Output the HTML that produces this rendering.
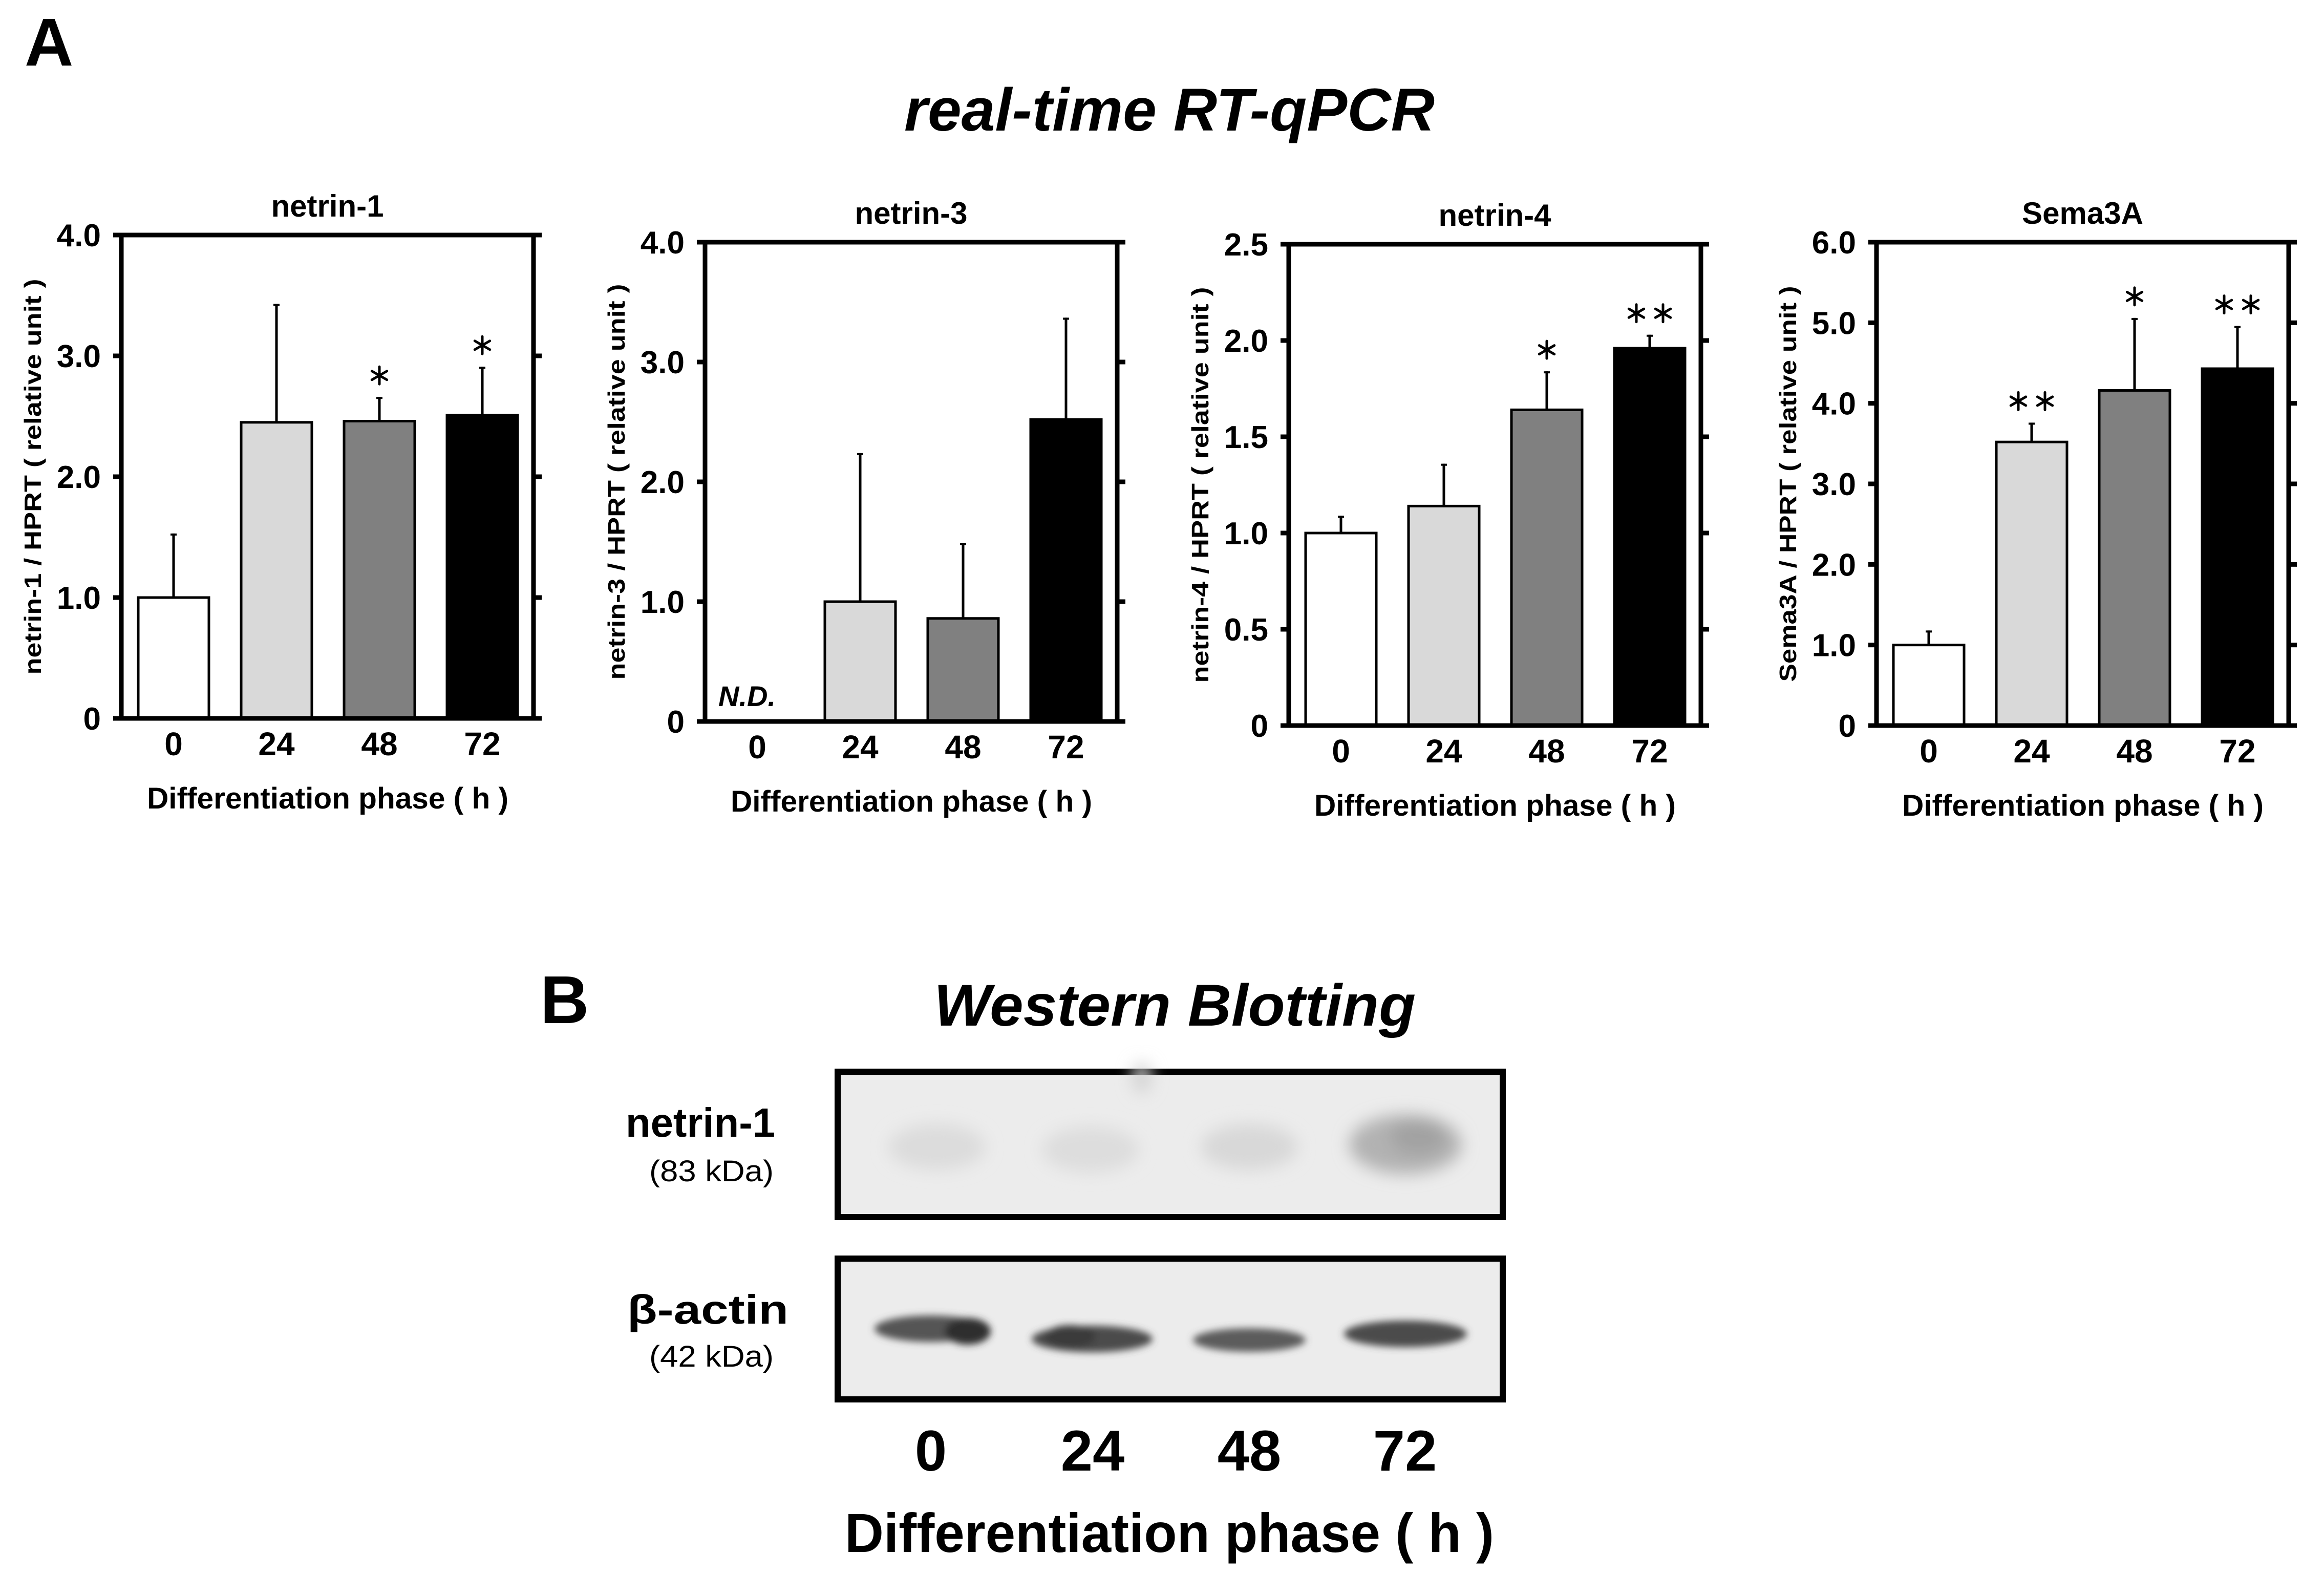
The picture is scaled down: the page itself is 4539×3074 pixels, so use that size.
<!DOCTYPE html>
<html><head><meta charset="utf-8"><style>
html,body{margin:0;padding:0;background:#fff;}
svg{display:block;}
text{font-family:"Liberation Sans",Arial,sans-serif;}
</style></head><body>
<svg id="fig" width="4539" height="3074" viewBox="0 0 4539 3074" xmlns="http://www.w3.org/2000/svg">
<defs>
<filter id="blur1" x="-50%" y="-50%" width="200%" height="200%"><feGaussianBlur stdDeviation="16"/></filter>
<filter id="blur2" x="-50%" y="-50%" width="200%" height="200%"><feGaussianBlur stdDeviation="7"/></filter>
</defs>
<rect x="0" y="0" width="4539" height="3074" fill="#fff"/>
<text x="48" y="128" font-size="132" font-weight="bold">A</text>
<text x="1766" y="255" font-size="118" font-weight="bold" font-style="italic" textLength="1036" lengthAdjust="spacingAndGlyphs">real-time RT-qPCR</text>
<g id="charts"></g>

<!-- Panel B -->
<text x="1055" y="1998" font-size="132" font-weight="bold">B</text>
<text x="1824" y="2003" font-size="115" font-weight="bold" font-style="italic" textLength="941" lengthAdjust="spacingAndGlyphs">Western Blotting</text>
<g>
<rect x="1636" y="2093" width="1299" height="284" fill="#ececec" stroke="#000" stroke-width="12"/>
<g filter="url(#blur1)">
<ellipse cx="1830" cy="2240" rx="95" ry="45" fill="#dcdcdc"/>
<ellipse cx="2130" cy="2245" rx="95" ry="45" fill="#dddddd"/>
<ellipse cx="2230" cy="2105" rx="18" ry="30" fill="#d2d2d2"/>
<ellipse cx="2440" cy="2240" rx="95" ry="45" fill="#d8d8d8"/>
<ellipse cx="2745" cy="2235" rx="110" ry="58" fill="#b2b2b2"/>
<ellipse cx="2770" cy="2220" rx="55" ry="35" fill="#a2a2a2"/>
</g>
</g>
<g>
<rect x="1636" y="2458" width="1299" height="275" fill="#ececec" stroke="#000" stroke-width="12"/>
<g filter="url(#blur2)">
<ellipse cx="1818" cy="2595" rx="110" ry="26" fill="#555"/>
<ellipse cx="1890" cy="2600" rx="45" ry="26" fill="#2e2e2e"/>
<ellipse cx="2133" cy="2615" rx="118" ry="26" fill="#4c4c4c"/>
<ellipse cx="2090" cy="2610" rx="50" ry="22" fill="#3a3a3a"/>
<ellipse cx="2440" cy="2617" rx="110" ry="23" fill="#5c5c5c"/>
<ellipse cx="2745" cy="2605" rx="120" ry="26" fill="#4c4c4c"/>
</g>
</g>
<text x="1222" y="2220" font-size="80" font-weight="bold" textLength="292" lengthAdjust="spacingAndGlyphs">netrin-1</text>
<text x="1268" y="2307" font-size="58" textLength="243" lengthAdjust="spacingAndGlyphs">(83 kDa)</text>
<text x="1225" y="2585" font-size="80" font-weight="bold" textLength="315" lengthAdjust="spacingAndGlyphs">β-actin</text>
<text x="1268" y="2669" font-size="58" textLength="243" lengthAdjust="spacingAndGlyphs">(42 kDa)</text>
<g font-size="112" font-weight="bold" text-anchor="middle">
<text x="1818" y="2872">0</text>
<text x="2134" y="2872">24</text>
<text x="2440" y="2872">48</text>
<text x="2744" y="2872">72</text>
</g>
<text x="1650" y="3031" font-size="108" font-weight="bold" textLength="1268" lengthAdjust="spacingAndGlyphs">Differentiation phase ( h )</text>
</svg>
<script>
// ---- chart data ----
const categories = ["0", "24", "48", "72"];
const panelTitles = ["netrin-1", "netrin-3", "netrin-4", "Sema3A"];
const yTitles = ["netrin-1 / HPRT ( relative unit )", "netrin-3 / HPRT ( relative unit )", "netrin-4 / HPRT ( relative unit )", "Sema3A / HPRT ( relative unit )"];
const netrin1Values = [1.0, 2.45, 2.46, 2.51];
const netrin1ErrTop = [1.53, 3.43, 2.66, 2.91];
const netrin1Sig = ["", "", "*", "*"];
const netrin3Values = [0, 1.0, 0.86, 2.52];
const netrin3ErrTop = [0, 2.24, 1.49, 3.37];
const netrin3Sig = ["", "", "", ""];
const netrin4Values = [1.0, 1.14, 1.64, 1.96];
const netrin4ErrTop = [1.09, 1.36, 1.84, 2.03];
const netrin4Sig = ["", "", "*", "**"];
const sema3aValues = [1.0, 3.52, 4.16, 4.43];
const sema3aErrTop = [1.18, 3.76, 5.06, 4.96];
const sema3aSig = ["", "**", "*", "**"];
const yMaxes = [4, 4, 2.5, 6];
const yTicks1 = [0, 1, 2, 3, 4];
const yTicks3 = [0, 0.5, 1, 1.5, 2, 2.5];
const yTicks4 = [0, 1, 2, 3, 4, 5, 6];
const yTickLabels1 = ["0", "1.0", "2.0", "3.0", "4.0"];
const yTickLabels3 = ["0", "0.5", "1.0", "1.5", "2.0", "2.5"];
const yTickLabels4 = ["0", "1.0", "2.0", "3.0", "4.0", "5.0", "6.0"];

const series = [
  {v: netrin1Values, e: netrin1ErrTop, s: netrin1Sig, t: yTicks1, tl: yTickLabels1, nd: false},
  {v: netrin3Values, e: netrin3ErrTop, s: netrin3Sig, t: yTicks1, tl: yTickLabels1, nd: true},
  {v: netrin4Values, e: netrin4ErrTop, s: netrin4Sig, t: yTicks3, tl: yTickLabels3, nd: false},
  {v: sema3aValues, e: sema3aErrTop, s: sema3aSig, t: yTicks4, tl: yTickLabels4, nd: false}
];
// layout (geometry, not data)
const geo = [
  {left: 237, top: 459, bottom: 1403},
  {left: 1377, top: 473, bottom: 1409},
  {left: 2517, top: 477, bottom: 1417},
  {left: 3665, top: 473, bottom: 1417}
];
const fills = ["#ffffff", "#d9d9d9", "#808080", "#000000"];
const PW = 805, TICK = 16, AXW = 9;

const NS = "http://www.w3.org/2000/svg";
const root = document.getElementById("charts");
function mk(tag, attrs, parent) {
  const el = document.createElementNS(NS, tag);
  for (const k in attrs) el.setAttribute(k, attrs[k]);
  parent.appendChild(el);
  return el;
}
function drawAsterisk(g, cx, cy) {
  const a = mk("g", {stroke: "#000", "stroke-width": 5, "stroke-linecap": "round"}, g);
  
  
  const r = 17;
  for (let k = 0; k < 3; k++) {
    const ang = Math.PI / 2 + k * Math.PI / 3;
    mk("line", {x1: cx - r * Math.cos(ang), y1: cy - r * Math.sin(ang), x2: cx + r * Math.cos(ang), y2: cy + r * Math.sin(ang)}, a);
  }
}

series.forEach((sr, p) => {
  const G = geo[p];
  const L = G.left, R = G.left + PW, T = G.top, B = G.bottom;
  const ymax = yMaxes[p];
  const y = v => B - v / ymax * (B - T);
  const x = i => L + 33 + i * 201;
  const BW = 138;
  const g = mk("g", {}, root);
  
  

  sr.v.forEach((val, i) => {
    if (sr.nd && i === 0) return;
    const r = mk("rect", {x: x(i), y: y(val), width: BW, height: B - y(val), fill: fills[i], stroke: "#000", "stroke-width": 5}, g);
    
    
    const cx = x(i) + BW / 2;
    const eb = mk("g", {stroke: "#000"}, g);
    
    
    mk("line", {x1: cx, y1: y(val), x2: cx, y2: y(sr.e[i]), "stroke-width": 5}, eb);
    mk("line", {x1: cx - 6, y1: y(sr.e[i]) + 2, x2: cx + 6, y2: y(sr.e[i]) + 2, "stroke-width": 4}, eb);
    const s = sr.s[i];
    if (s === "*") drawAsterisk(g, cx, y(sr.e[i]) - 42);
    if (s === "**") { drawAsterisk(g, cx - 26, y(sr.e[i]) - 42); drawAsterisk(g, cx + 26, y(sr.e[i]) - 42); }
  });
  if (sr.nd) {
    const nd = mk("text", {x: x(0) + BW / 2 - 20, y: B - 30, "font-size": 56, "font-weight": "bold", "font-style": "italic", "text-anchor": "middle"}, g);
    nd.textContent = "N.D.";
    
    
  }

  const fr = mk("g", {stroke: "#000", "stroke-width": AXW}, g);
  
  
  mk("line", {x1: L, y1: T, x2: L, y2: B}, fr);
  mk("line", {x1: R, y1: T, x2: R, y2: B}, fr);
  mk("line", {x1: L - TICK, y1: B, x2: R + TICK, y2: B}, fr);
  mk("line", {x1: L - TICK, y1: T, x2: R + TICK, y2: T}, fr);

  sr.t.forEach((tv, k) => {
    const ty = y(tv);
    mk("line", {x1: L - TICK, y1: ty, x2: L, y2: ty, stroke: "#000", "stroke-width": AXW}, g);
    mk("line", {x1: R, y1: ty, x2: R + TICK, y2: ty, stroke: "#000", "stroke-width": AXW}, g);
    const tl = mk("text", {x: L - 40, y: ty + 22, "font-size": 62, "font-weight": "bold", "text-anchor": "end"}, g);
    tl.textContent = sr.tl[k];
    
    
  });
  categories.forEach((c, i) => {
    const xl = mk("text", {x: x(i) + BW / 2, y: B + 72, "font-size": 64, "font-weight": "bold", "text-anchor": "middle"}, g);
    xl.textContent = c;
    
    
  });
  const xt = mk("text", {x: L + 50, y: B + 176, "font-size": 58, "font-weight": "bold", textLength: 706, lengthAdjust: "spacingAndGlyphs"}, g);
  xt.textContent = "Differentiation  phase ( h )";
  
  
  const cy = (T + B) / 2, cxT = L - 157;
  const yt = mk("text", {x: cxT, y: cy, "font-size": 46, "font-weight": "bold", "text-anchor": "middle", textLength: 773, lengthAdjust: "spacingAndGlyphs", transform: "rotate(-90 " + cxT + " " + cy + ")"}, g);
  yt.textContent = yTitles[p];
  
  
  const pt = mk("text", {x: (L + R) / 2, y: T - 36, "font-size": 60, "font-weight": "bold", "text-anchor": "middle"}, g);
  pt.textContent = panelTitles[p];
  
  
});
</script>
</body></html>
